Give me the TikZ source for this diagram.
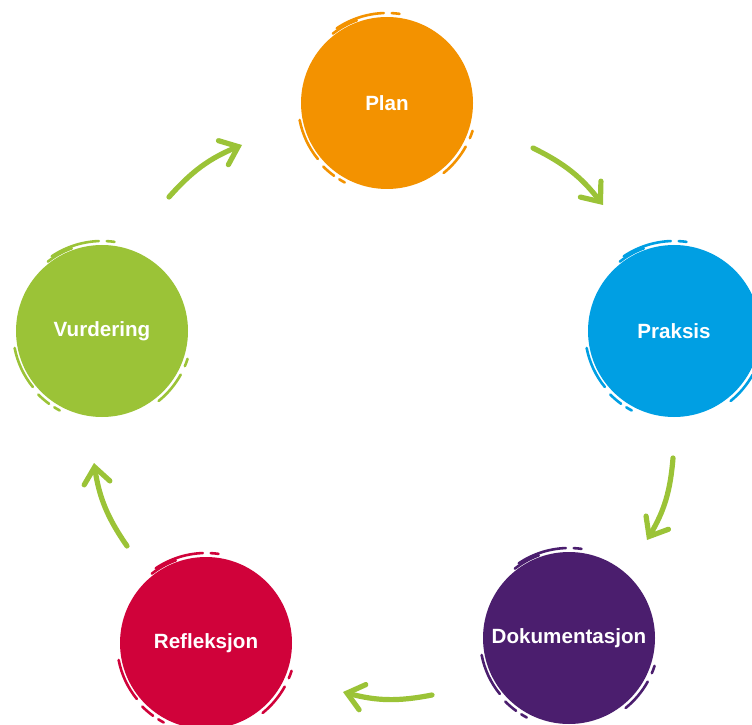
\documentclass[tikz,border=0pt]{standalone}
\usepackage{fontspec}
\setmainfont{Liberation Sans}
\usetikzlibrary{arrows.meta}

\definecolor{planorange}{RGB}{243,146,0}
\definecolor{praksisblue}{RGB}{0,159,227}
\definecolor{dokpurple}{RGB}{75,30,110}
\definecolor{reflred}{RGB}{208,2,58}
\definecolor{vurdgreen}{RGB}{155,195,55}

% loose hand-drawn rings round a phase circle
\newcommand{\sketchring}[2]{%
  \draw[ring,#2] ([shift={(128:88)}]#1.center) arc[start angle=128,end angle=110,radius=88];
  \draw[ring,#2] ([shift={(124:90)}]#1.center) arc[start angle=124,end angle=92,radius=90];
  \draw[ring,#2] ([shift={(87:90)}]#1.center) arc[start angle=87,end angle=82,radius=90];
  \draw[ring,#2] ([shift={(191:89)}]#1.center) arc[start angle=191,end angle=219,radius=89];
  \draw[ring,#2] ([shift={(225:90)}]#1.center) arc[start angle=225,end angle=234,radius=90];
  \draw[ring,#2] ([shift={(238:90)}]#1.center) arc[start angle=238,end angle=242,radius=90];
  \draw[ring,#2] ([shift={(-18:90)}]#1.center) arc[start angle=-18,end angle=-23,radius=90];
  \draw[ring,#2] ([shift={(-29:90)}]#1.center) arc[start angle=-29,end angle=-51,radius=90];
}

\begin{document}
\begin{tikzpicture}[x=1pt,y=1pt,
    phase/.style={circle,minimum size=172pt,inner sep=0pt,text=white,
                  font=\fontsize{20.6}{24}\selectfont\bfseries},
    ring/.style={line width=2.6pt,line cap=round},
    flow/.style={vurdgreen,line width=5.2pt,line cap=round,line join=round,
                 -{Straight Barb[length=16pt,width=26pt,line cap=round]}}]
  \useasboundingbox (0,0) rectangle (752,724);

  \node[phase,fill=planorange]  (plan) at (387,621) {Plan};
  \node[phase,fill=praksisblue] (prak) at (674,393) {Praksis};
  \node[phase,fill=dokpurple]   (dok)  at (569,86)  {Dokumentasjon};
  \node[phase,fill=reflred]     (refl) at (206,81)  {Refleksjon};
  \node[phase,fill=vurdgreen]   (vurd) at (102,393) {Vurdering};

  \foreach \n/\c in {plan/planorange,prak/praksisblue,dok/dokpurple,
                     refl/reflred,vurd/vurdgreen}
    {\sketchring{\n}{\c}}

  % arrow ends between the phases
  \coordinate (a1) at (169,527); \coordinate (b1) at (242,579);
  \coordinate (a2) at (533,576); \coordinate (b2) at (603,519);
  \coordinate (a3) at (673,266); \coordinate (b3) at (647,184);
  \coordinate (a4) at (432,29);  \coordinate (b4) at (343,32);
  \coordinate (a5) at (127,178); \coordinate (b5) at (94,261);

  \draw[flow] (a1) to[bend left=13] (b1);
  \draw[flow] (a2) to[bend left=13] (b2);
  \draw[flow] (a3) to[bend left=13] (b3);
  \draw[flow] (a4) to[bend left=13] (b4);
  \draw[flow] (a5) to[bend left=13] (b5);

\end{tikzpicture}
\end{document}
